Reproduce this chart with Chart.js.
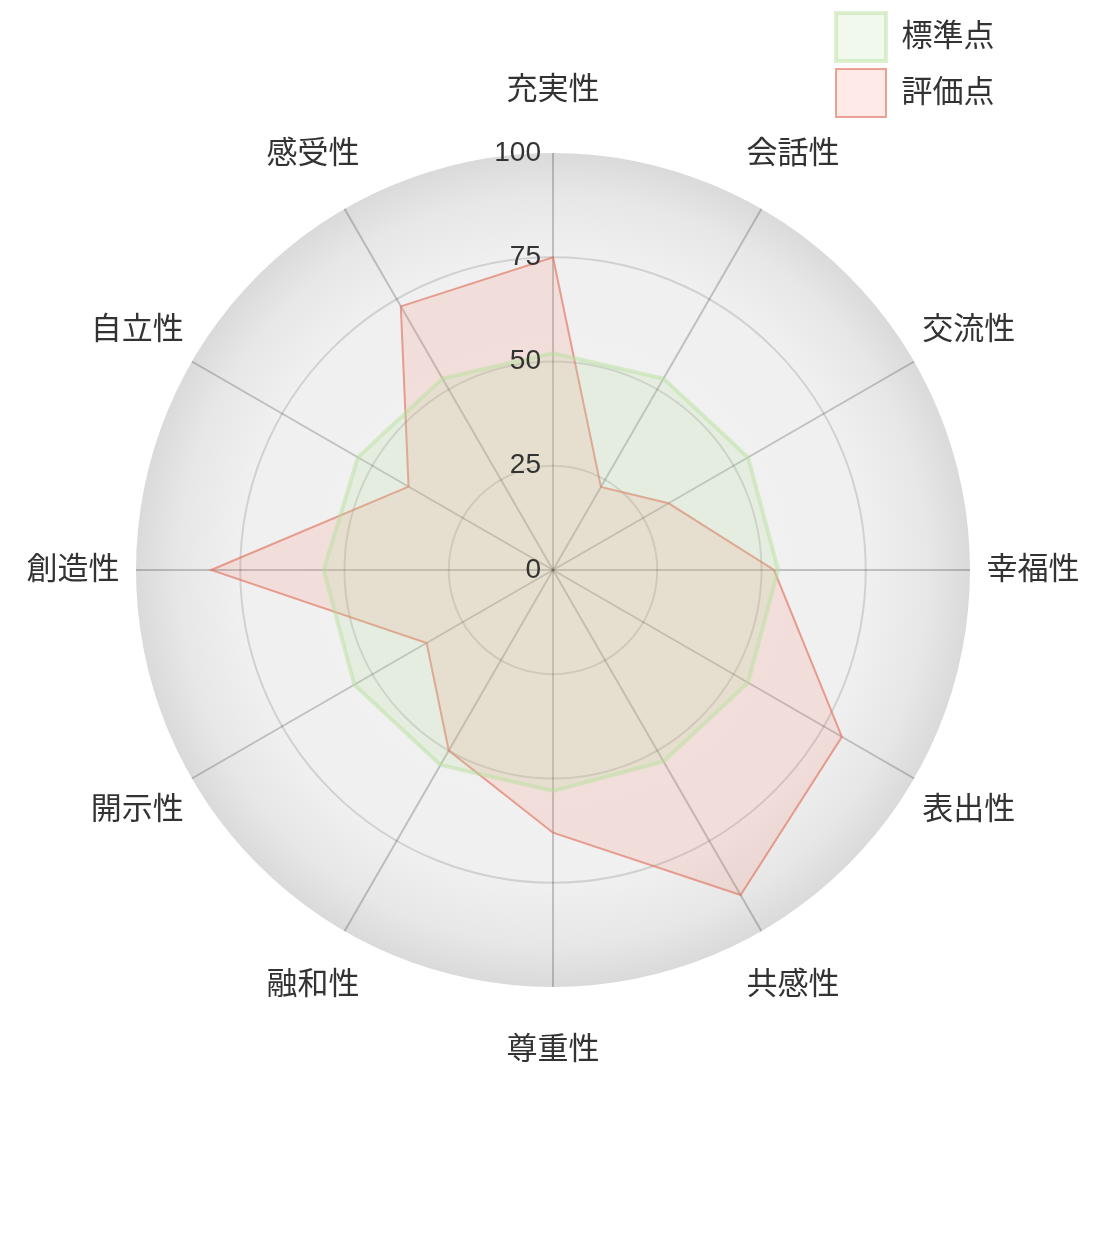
<!DOCTYPE html>
<html lang="ja">
<head>
<meta charset="utf-8">
<title>レーダーチャート</title>
<script src="https://cdn.jsdelivr.net/npm/chart.js@4.4.1/dist/chart.umd.min.js"></script>
<style>
  html, body { margin: 0; padding: 0; background: #fff; overflow: hidden; }
  .wrap { position: relative; width: 1102px; height: 1240px; }
</style>
</head>
<body>
<div class="wrap"><canvas id="radar"></canvas></div>
<script>
'use strict';

const categories = ["充実性", "会話性", "交流性", "幸福性", "表出性", "共感性", "尊重性", "融和性", "開示性", "創造性", "自立性", "感受性"];
const standardScores = [52, 53, 54, 54, 54, 53, 53, 54, 55, 55, 54, 53];
const ratingScores = [75, 23, 32, 53, 80, 90, 63, 50, 35, 82, 40, 73];
const tickValues = [0, 25, 50, 75, 100];

const fontFamily = "'Liberation Sans', 'Noto Sans CJK JP', sans-serif";
Chart.defaults.font.family = fontFamily;
Chart.defaults.color = '#333';

// 外側ほど少し暗くなる円盤の背景
function discGradient(context) {
  const s = context.scale;
  if (!s || !s.drawingArea) return '#f0f0f0';
  const g = context.chart.ctx.createRadialGradient(s.xCenter, s.yCenter, 0, s.xCenter, s.yCenter, s.drawingArea);
  g.addColorStop(0, '#f2f2f2');
  g.addColorStop(0.75, '#f0f0f0');
  g.addColorStop(0.9, '#e7e7e7');
  g.addColorStop(1, '#dadada');
  return g;
}

// 凡例を右上の角へ
const legendCorner = {
  id: 'legendCorner',
  afterLayout(chart) {
    const lg = chart.legend;
    if (!lg) return;
    lg.left = chart.width - 274;
    lg.right = lg.left + lg.width;
    lg.top = 5;
    lg.bottom = lg.top + lg.height;
  }
};

// 目盛りの数字は軸の左に右寄せ
const tickText = {
  id: 'tickText',
  afterDatasetsDraw(chart) {
    const r = chart.scales.r;
    const ctx = chart.ctx;
    ctx.save();
    ctx.font = '28px ' + fontFamily;
    ctx.fillStyle = '#333';
    ctx.textAlign = 'right';
    ctx.textBaseline = 'middle';
    r.ticks.forEach(t => {
      ctx.fillText(t.label, r.xCenter - 12, r.yCenter - r.getDistanceFromCenterForValue(t.value));
    });
    ctx.restore();
  }
};

// 項目名は円の外側に中央揃え
const outerLabels = {
  id: 'outerLabels',
  afterDraw(chart) {
    const r = chart.scales.r;
    const ctx = chart.ctx;
    ctx.save();
    ctx.font = '31px ' + fontFamily;
    ctx.fillStyle = '#333';
    ctx.textAlign = 'center';
    ctx.textBaseline = 'middle';
    chart.data.labels.forEach((label, i) => {
      const p = r.getPointPosition(i, r.drawingArea + 63);
      ctx.fillText(label, p.x, p.y);
    });
    ctx.restore();
  }
};

let radar = new Chart(document.getElementById('radar'), {
  type: 'radar',
  data: {
    labels: categories,
    datasets: [{
      label: '標準点',
      data: standardScores,
      backgroundColor: 'rgba(185, 225, 165, 0.2)',
      borderColor: 'rgba(180, 225, 150, 0.45)',
      borderWidth: 4,
      pointRadius: 0,
      pointHoverRadius: 0
    }, {
      label: '評価点',
      data: ratingScores,
      backgroundColor: 'rgba(250, 110, 85, 0.14)',
      borderColor: 'rgba(225, 115, 95, 0.65)',
      borderWidth: 2,
      pointRadius: 0,
      pointHoverRadius: 0
    }]
  },
  options: {
    responsive: true,
    maintainAspectRatio: false,
    animation: false,
    layout: {
      padding: { left: 136, right: 132, top: 153, bottom: 253 }
    },
    plugins: {
      legend: {
        position: 'chartArea',
        align: 'start',
        labels: {
          boxWidth: 50,
          boxHeight: 48,
          padding: 8,
          color: '#333',
          font: { size: 31 }
        }
      },
      tooltip: { enabled: false }
    },
    scales: {
      r: {
        min: 0,
        max: 100,
        backgroundColor: discGradient,
        angleLines: { color: 'rgba(0, 0, 0, 0.2)', lineWidth: 2 },
        grid: {
          circular: true,
          lineWidth: 2,
          color: c => (c.tick && c.tick.value >= 100) ? 'rgba(0, 0, 0, 0)' : 'rgba(0, 0, 0, 0.13)'
        },
        ticks: { display: false, stepSize: 25 },
        afterBuildTicks: scale => {
          scale.ticks = tickValues.map(v => ({ value: v }));
        },
        pointLabels: { display: false }
      }
    }
  },
  plugins: [legendCorner, tickText, outerLabels]
});
</script>
</body>
</html>
